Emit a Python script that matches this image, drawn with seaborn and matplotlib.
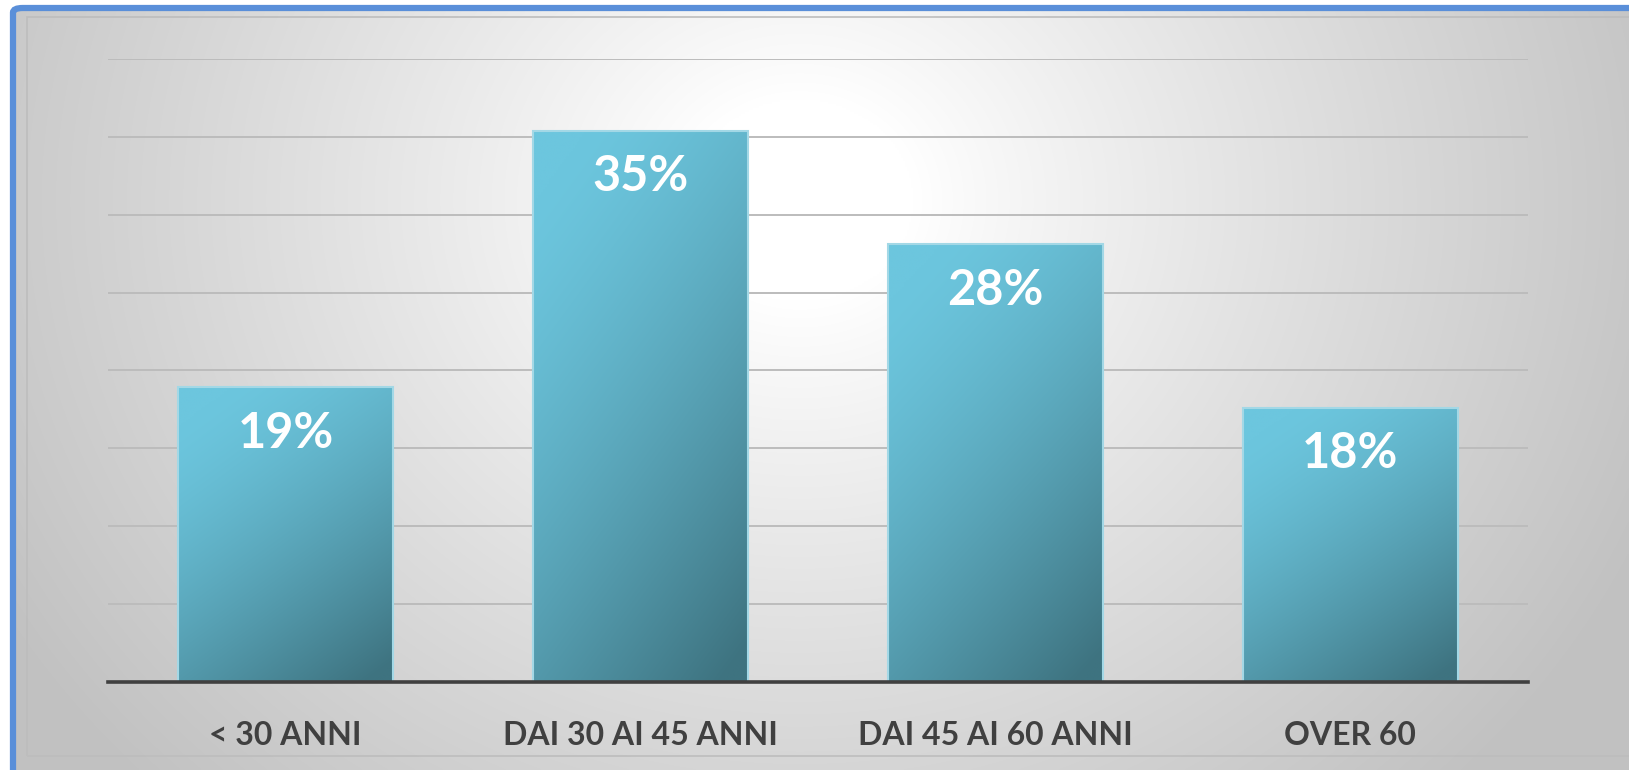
import numpy as np
import pandas as pd
import matplotlib.pyplot as plt
import seaborn as sns
from matplotlib.patches import FancyBboxPatch, Rectangle

# chart data (bar heights, labels as printed)
categories = ["< 30 ANNI", "DAI 30 AI 45 ANNI", "DAI 45 AI 60 ANNI", "OVER 60"]
values = [18.9, 35.4, 28.1, 17.6]
labels = ["19%", "35%", "28%", "18%"]

df = pd.DataFrame({"fascia": categories, "quota": values})

sns.set_theme(style="white")
plt.rcParams['font.family'] = ['Lato', 'DejaVu Sans']

W, H = 1629, 770
fig = plt.figure(figsize=(W / 100, H / 100), dpi=100, facecolor="white")

# radial grey->white background inside the frame
bg = fig.add_axes([13 / W, 0, 1 - 13 / W, 1 - 8 / H])
bg.set_axis_off()
yy, xx = np.mgrid[0:400, 0:800]
gx = xx / 799 * (W - 13) + 13
gy = yy / 399 * (H - 8) + 8
r = np.sqrt(((gx - 800) / 950) ** 2 + ((gy - 200) / 850) ** 2)
t = np.clip((r - 0.12) / 0.85, 0, 1) ** 0.9
shade = 1.0 - 0.24 * t
bg.imshow(np.dstack([shade, shade, shade]), extent=[0, 1, 0, 1], aspect="auto",
          origin="upper", interpolation="bilinear")
bg.set_xlim(0, 1)
bg.set_ylim(0, 1)

# inner faint frame and outer blue frame
fig.patches.append(Rectangle((27 / W, 1 - 756 / H), 1.2, (756 - 17) / H,
                             transform=fig.transFigure, fill=False,
                             edgecolor="#bdbdbd", lw=1.2))
fig.patches.append(FancyBboxPatch((13 / W, -0.2), 1.2, 1.2 - 8 / H,
                                  boxstyle="round,pad=0,rounding_size=0.006",
                                  transform=fig.transFigure, fill=False,
                                  edgecolor="#5a8fd9", lw=4.5))

ax = fig.add_axes([108 / W, 88.3 / H, (1527.7 - 108) / W, (681.7 - 59) / H])
ax.patch.set_alpha(0)

sns.barplot(data=df, x="fascia", y="quota", width=0.606, ax=ax,
            color="#6cc6de", edgecolor="#a3d8e6", linewidth=1.5, zorder=3)

ax.set_ylim(0, 40)
ax.set_xlim(-0.5, 3.5)
ax.set_yticks(np.arange(5, 41, 5))
ax.yaxis.grid(True, color="#bcbcbc", lw=1.4)
ax.set_axisbelow(True)
ax.tick_params(axis="y", left=False, labelleft=False)
ax.tick_params(axis="x", bottom=False, pad=22)
for s in ["top", "right", "left"]:
    ax.spines[s].set_visible(False)
ax.spines["bottom"].set_color("#404040")
ax.spines["bottom"].set_linewidth(2.6)
ax.spines["bottom"].set_zorder(5)
ax.set_xlabel("")
ax.set_ylabel("")
for lab in ax.get_xticklabels():
    lab.set_fontsize(23)
    lab.set_fontweight("bold")
    lab.set_color("#404040")

# diagonal gradient fill on every bar
light = np.array([108, 198, 222]) / 255
dark = np.array([62, 115, 128]) / 255
u, v = np.meshgrid(np.linspace(0, 1, 100), np.linspace(0, 1, 200))
g = np.clip(0.4 * u + 0.75 * v - 0.1, 0, 1) ** 1.4
grad = light[None, None, :] * (1 - g[..., None]) + dark[None, None, :] * g[..., None]
for p in ax.patches:
    x0, y0 = p.get_x(), p.get_y()
    w, h = p.get_width(), p.get_height()
    im = ax.imshow(grad, extent=[x0, x0 + w, y0, y0 + h], origin="upper",
                   aspect="auto", zorder=2.5, interpolation="bilinear")
    im.set_clip_path(p)
    p.set_facecolor("none")
ax.set_xlim(-0.5, 3.5)
ax.set_ylim(0, 40)

for i, (val, txt) in enumerate(zip(values, labels)):
    ax.annotate(txt, (i, val), xytext=(0, -33), textcoords="offset points",
                ha="center", va="center", color="white", fontsize=35,
                fontweight="bold", zorder=6)

fig.savefig("out.png", dpi=100)
